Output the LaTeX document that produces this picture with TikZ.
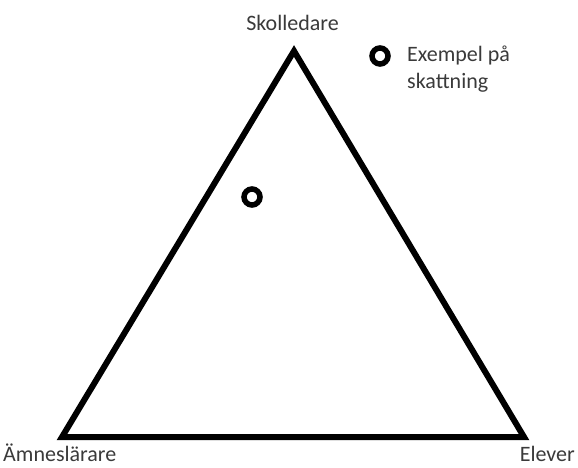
\documentclass[tikz,border=0pt]{standalone}
\usepackage{fontspec}
\setmainfont{Carlito}
\definecolor{txt}{HTML}{3A3A3A}
\begin{document}
\begin{tikzpicture}[x=1pt,y=-1pt,
  lbl/.style={text=txt,font=\fontsize{22pt}{27pt}\selectfont,inner sep=0pt},
  edge/.style={line width=6pt,line join=miter},
  dot/.style={circle,draw,line width=5.5pt,minimum size=16pt,inner sep=0pt}]
\useasboundingbox (0,0) rectangle (578,468);
\coordinate (top) at (294,51);
\coordinate (bl) at (62,437);
\coordinate (br) at (524,437);
\draw[edge] (top) -- (bl) -- (br) -- cycle;
\node[lbl,anchor=base] (sk) at (292.5,31) {Skolledare};
\node[lbl,anchor=base west] (am) at (3,461) {Ämneslärare};
\node[lbl,anchor=base east] (el) at (575,461) {Elever};
\node[dot] (c1) at (252,197) {};
\node[dot] (c2) at (380,56) {};
\node[lbl,anchor=west,align=left] (ex) at (407,69) {Exempel på\\skattning};
\end{tikzpicture}
\end{document}
